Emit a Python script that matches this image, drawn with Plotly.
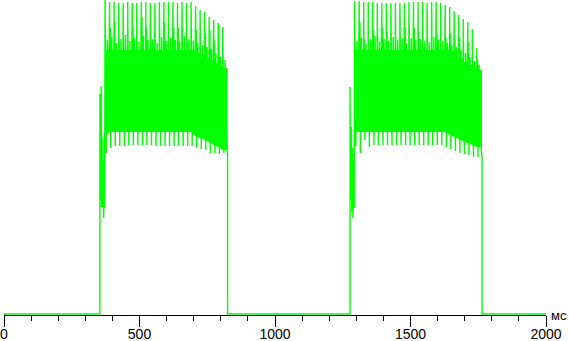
import plotly.graph_objects as go

# ---- axis / labels ----
x_range = [0, 2000]
major_step = 500
minor_step = 100
unit_label = "мс"

# ---- signal levels (arbitrary brightness units, 0..315) ----
baseline_level = 1

# burst 1: lead-in oscillation (time ms, high, low)
b1_lead_t = [354, 358.5, 362, 366.5, 370]
b1_lead_hi = [221, 229, 177, 155, 182]
b1_lead_lo = [115, 108, 108, 97, 107]
# burst 1: main part, one entry per flicker cycle
b1_start = 373
b1_period = 16.7
b1_peak = [315, 313, 313, 312, 312, 313, 312, 312, 313, 313, 312, 312, 313, 313,
           313, 313, 312, 313, 312, 313, 309, 305, 303, 298, 295, 292, 288]
b1_second = [290, 287, 293, 282, 287, 297, 287, 295, 298, 287, 300, 290, 292, 292,
             293, 287, 287, 295, 287, 296, 285, 292, 282, 285, 275, 290, 269]
b1_mid = [275, 278, 272, 276, 280, 274, 277, 273, 279, 275, 276, 272, 278, 274,
          277, 275, 273, 279, 276, 274, 272, 270, 268, 266, 262, 258, 255]
b1_top = [265] * 20 + [262, 260, 257, 255, 252, 249, 247]
b1_bot = [182] + [183] * 19 + [179, 177, 175, 173, 170, 168, 165]
b1_low = [162, 167, 169, 169, 169, 170, 170, 170, 170, 170, 170, 169, 169, 169,
          169, 169, 169, 169, 169, 169, 167, 166, 165, 162, 162, 161, 162]
b1_end_t = 825
b1_end_v = 162

# burst 2
b2_lead_t = [1277, 1282, 1286, 1291]
b2_lead_hi = [228, 188, 167, 155]
b2_lead_lo = [115, 103, 97, 107]
b2_start = 1294
b2_period = 16.7
b2_peak = [314, 314, 313, 313, 313, 312, 312, 312, 312, 312, 312, 312, 313, 313,
           313, 313, 312, 313, 313, 312, 310, 308, 304, 300, 296, 293, 286, 267]
b2_second = [282, 293, 275, 288, 285, 280, 287, 283, 290, 285, 282, 288, 285, 287,
             283, 290, 285, 287, 280, 285, 277, 282, 275, 278, 270, 273, 265, 255]
b2_mid = [274, 277, 271, 276, 279, 273, 276, 274, 278, 275, 277, 272, 277, 275,
          276, 274, 273, 278, 275, 274, 272, 270, 268, 265, 262, 258, 254, 250]
b2_top = [265] * 21 + [263, 260, 257, 253, 250, 247, 245]
b2_bot = [183] * 21 + [180, 178, 176, 174, 172, 170, 168]
b2_low = [169, 162, 175, 168, 170, 170, 170, 170, 170, 170, 170, 170, 170, 170,
          170, 170, 170, 170, 170, 170, 168, 166, 164, 162, 161, 160, 158, 158]
b2_end_t = 1764
b2_end_v = 158

# order of sub-samples inside one flicker cycle (evenly spread over the cycle)
cycle_levels = ["peak", "bot", "second", "low", "top", "bot",
                "mid", "bot", "top", "bot", "top", "bot"]

xs, ys = [], []
band_x, band_y = [], []


def add(t, v):
    xs.append(t)
    ys.append(v)


def burst(lead_t, lead_hi, lead_lo, start, period, peak, second, mid, top, bot, low,
          end_t, end_v):
    add(lead_t[0], baseline_level)
    for t, hi, lo in zip(lead_t, lead_hi, lead_lo):
        add(t, hi)
        add(t + 1.5, lo)
    step = period / len(cycle_levels)
    for i in range(len(peak)):
        lv = {"peak": peak[i], "second": second[i], "mid": mid[i],
              "top": top[i], "bot": bot[i], "low": low[i]}
        t0 = start + i * period
        for k, name in enumerate(cycle_levels):
            add(t0 + k * step, lv[name])
    add(end_t, end_v)
    add(end_t, baseline_level)
    # solid core of the flicker band (between the per-cycle top and bottom levels)
    ts = [start + i * period for i in range(len(top))] + [end_t]
    tops = list(top) + [top[-1]]
    bots = list(bot) + [bot[-1]]
    band_x.extend(ts + ts[::-1] + [None])
    band_y.extend(tops + bots[::-1] + [None])


add(x_range[0], baseline_level)
burst(b1_lead_t, b1_lead_hi, b1_lead_lo, b1_start, b1_period, b1_peak, b1_second,
      b1_mid, b1_top, b1_bot, b1_low, b1_end_t, b1_end_v)
burst(b2_lead_t, b2_lead_hi, b2_lead_lo, b2_start, b2_period, b2_peak, b2_second,
      b2_mid, b2_top, b2_bot, b2_low, b2_end_t, b2_end_v)
add(x_range[1], baseline_level)

fig = go.Figure()
fig.add_trace(go.Scatter(x=band_x, y=band_y, mode="lines", fill="toself",
                         fillcolor="#00ff00", line=dict(color="#00ff00", width=0),
                         hoverinfo="skip", showlegend=False))
fig.add_trace(go.Scatter(x=xs, y=ys, mode="lines",
                         line=dict(color="#00ff00", width=1.4),
                         hoverinfo="skip", showlegend=False))

fig.update_layout(
    width=569, height=341,
    margin=dict(l=4, r=23, t=0, b=26, autoexpand=False),
    paper_bgcolor="white", plot_bgcolor="white",
    font=dict(family="Liberation Sans, Arial, sans-serif", size=13, color="black"),
    xaxis=dict(range=x_range, tick0=0, dtick=major_step, automargin=False,
               showline=True, linecolor="black", linewidth=1,
               ticks="outside", ticklen=11, tickwidth=1, tickcolor="black",
               ticklabelstandoff=-5,
               showgrid=False, zeroline=False,
               tickfont=dict(size=14),
               minor=dict(dtick=minor_step, ticks="outside", ticklen=5,
                          tickwidth=1, tickcolor="black", showgrid=False)),
    yaxis=dict(range=[0, 315], visible=False, showgrid=False, zeroline=False,
               automargin=False),
    annotations=[dict(text=unit_label, xref="paper", yref="paper",
                      x=(569 - 4) / 542, y=0.0, xanchor="right", yanchor="middle",
                      showarrow=False, font=dict(size=13, color="black"))],
)

fig.write_html("out.html")
